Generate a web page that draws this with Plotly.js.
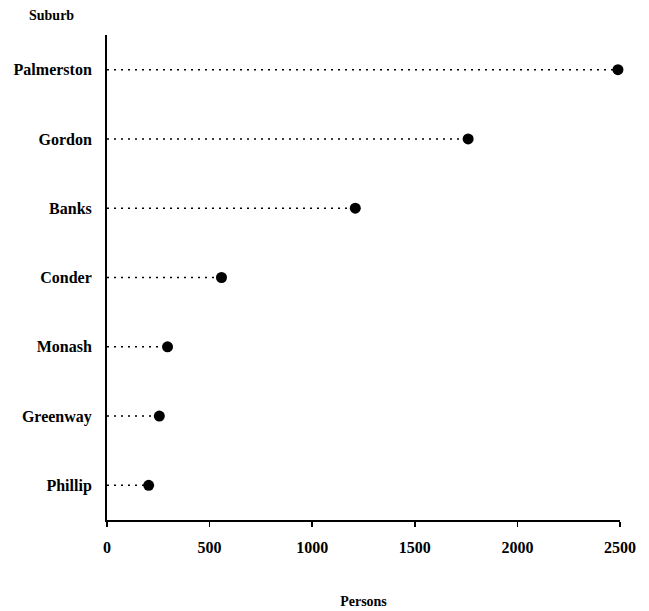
<!DOCTYPE html>
<html>
<head>
<meta charset="utf-8">
<script src="https://cdn.plot.ly/plotly-3.0.1.min.js"></script>
<style>html,body{margin:0;padding:0;background:#fff;}#chart{width:649px;height:611px;}</style>
</head>
<body>
<div id="chart"></div>
<script>
var suburbs = ["Palmerston", "Gordon", "Banks", "Conder", "Monash", "Greenway", "Phillip"];
var persons = [2490, 1760, 1210, 558, 295, 255, 203];
var xTicks = [0, 500, 1000, 1500, 2000, 2500];

var lineX = [], lineY = [];
for (var i = 0; i < suburbs.length; i++) {
  lineX.push(0, persons[i], null);
  lineY.push(suburbs[i], suburbs[i], null);
}

var fontFam = "Liberation Serif, Times New Roman, serif";

var traces = [
  {
    type: "scatter", mode: "lines", x: lineX, y: lineY,
    line: {color: "#000", width: 1.5, dash: "2px,5px"},
    hoverinfo: "skip", showlegend: false
  },
  {
    type: "scatter", mode: "markers", x: persons, y: suburbs,
    marker: {color: "#000", size: 11},
    cliponaxis: false, showlegend: false
  }
];

var layout = {
  width: 649, height: 611,
  margin: {l: 107, r: 29, t: 35, b: 91},
  paper_bgcolor: "#fff", plot_bgcolor: "#fff",
  font: {family: fontFam, color: "#000", size: 15},
  showlegend: false,
  xaxis: {
    range: [0, 2500], tickvals: xTicks, ticktext: xTicks.map(String),
    showgrid: false, zeroline: false,
    showline: true, linecolor: "#000", linewidth: 2,
    ticks: "outside", ticklen: 5, tickwidth: 1.5, tickcolor: "#000",
    ticklabelstandoff: 7,
    tickfont: {family: fontFam, size: 16, color: "#000", weight: "bold"},
    title: {text: "Persons", font: {family: fontFam, size: 14, color: "#000", weight: "bold"}, standoff: 41}
  },
  yaxis: {
    type: "category", categoryorder: "array", categoryarray: suburbs,
    range: [6.5, -0.5],
    showgrid: false, zeroline: false,
    showline: true, linecolor: "#000", linewidth: 2,
    ticks: "", ticklabelstandoff: 10,
    tickfont: {family: fontFam, size: 16, color: "#000", weight: "bold"}
  },
  annotations: [
    {text: "Suburb", xref: "paper", yref: "paper", x: -0.109, y: 1.0, yshift: 20,
     xanchor: "center", yanchor: "middle", showarrow: false,
     font: {family: fontFam, size: 14, color: "#000", weight: "bold"}}
  ]
};

Plotly.newPlot("chart", traces, layout, {displayModeBar: false, staticPlot: true});
</script>
</body>
</html>
